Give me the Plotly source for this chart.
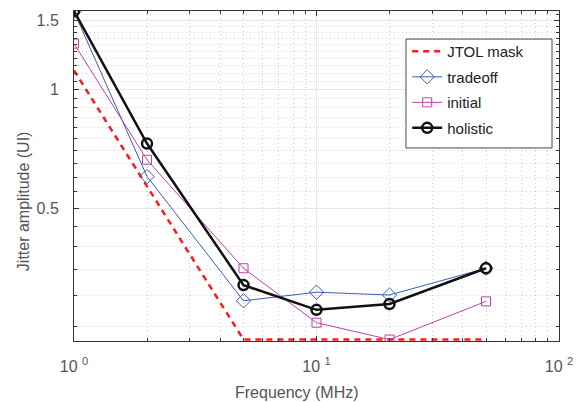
import plotly.graph_objects as go
import numpy as np

freq = [1, 2, 5, 10, 20, 50]
mask_freq = [1, 5, 50]
mask_vals = [1.12, 0.232, 0.232]
tradeoff = [1.58, 0.602, 0.291, 0.306, 0.301, 0.352]
initial = [1.31, 0.664, 0.352, 0.256, 0.232, 0.290]
holistic = [1.585, 0.730, 0.319, 0.276, 0.2855, 0.352]

x_tickvals = [1, 10, 100]
x_ticktext = ["10 <sup>0</sup>", "10 <sup>1</sup>", "10 <sup>2</sup>"]
y_tickvals = [0.5, 1, 1.5]
y_ticktext = ["0.5", "1", "1.5"]

x_minor = [m * d for d in (1, 10) for m in range(2, 10)]
y_minor = [round(v, 2) for v in np.arange(0.25, 1.58, 0.05)]

FONT = "Liberation Sans, Arial"

fig = go.Figure()
fig.add_trace(go.Scatter(x=mask_freq, y=mask_vals, mode="lines", name="JTOL mask",
                         line=dict(color="#ff1a1a", width=2.5, dash="6px,5px"),
                         legendgroup="a"))
fig.add_trace(go.Scatter(x=freq, y=tradeoff, mode="lines+markers", name="tradeoff",
                         line=dict(color="#3a5cb8", width=1),
                         marker=dict(symbol="diamond-open", size=11, color="#3a5cb8",
                                     line=dict(width=1)),
                         legendgroup="b"))
fig.add_trace(go.Scatter(x=freq, y=initial, mode="lines+markers", name="initial",
                         line=dict(color="#c040a8", width=1),
                         marker=dict(symbol="square-open", size=9, color="#c040a8",
                                     line=dict(width=1)),
                         legendgroup="c"))
fig.add_trace(go.Scatter(x=freq, y=holistic, mode="lines+markers", name="holistic",
                         line=dict(color="#111111", width=2.5),
                         marker=dict(symbol="circle-open", size=10, color="#111111",
                                     line=dict(width=2.5)),
                         legendgroup="d"))

axis_common = dict(
    showline=True, linecolor="#333333", linewidth=1, mirror="ticks",
    ticks="inside", ticklen=5, tickcolor="#333333",
    showgrid=True, gridcolor="#e6e6e6", gridwidth=1,
    tickfont=dict(family=FONT, size=16, color="#555555"),
    zeroline=False, automargin=False,
)
minor_common = dict(showgrid=True, griddash="1px,3px", gridcolor="#cfcfcf",
                    ticks="inside", ticklen=3, tickcolor="#333333")

fig.update_xaxes(type="log", range=[0, 2], tickvals=x_tickvals, ticktext=x_ticktext,
                 ticklabelstandoff=11,
                 minor=dict(tickvals=x_minor, **minor_common),
                 **axis_common)
fig.update_yaxes(type="log", range=[np.log10(0.23), np.log10(1.585)],
                 tickvals=y_tickvals, ticktext=y_ticktext, ticklabelstandoff=11,
                 minor=dict(tickvals=y_minor, **minor_common),
                 **axis_common)

fig.add_annotation(text="Frequency (MHz)", xref="paper", yref="paper",
                   x=0.459, y=-0.157, xanchor="center", yanchor="middle",
                   showarrow=False, font=dict(family=FONT, size=16, color="#555555"))
fig.add_annotation(text="Jitter amplitude (UI)", xref="paper", yref="paper",
                   x=-0.105, y=0.424, xanchor="center", yanchor="middle", textangle=-90,
                   showarrow=False, font=dict(family=FONT, size=16, color="#555555"))

# legend frame
fig.add_shape(type="rect", xref="paper", yref="paper",
              x0=0.6845, x1=0.9856, y0=0.585, y1=0.915,
              line=dict(color="#444444", width=1), fillcolor="white", layer="above")

fig.update_layout(
    width=585, height=402,
    margin=dict(l=74, r=26, t=11, b=61),
    plot_bgcolor="white", paper_bgcolor="white",
    legend=dict(x=0.687, y=0.927, xanchor="left", yanchor="top",
                borderwidth=0, bgcolor="rgba(0,0,0,0)",
                font=dict(family=FONT, size=15, color="#222222"),
                traceorder="grouped", tracegroupgap=3, itemwidth=30),
    showlegend=True,
)

fig.write_html("out.html", config={"displayModeBar": False},
               post_script="document.body.style.margin='0';")
